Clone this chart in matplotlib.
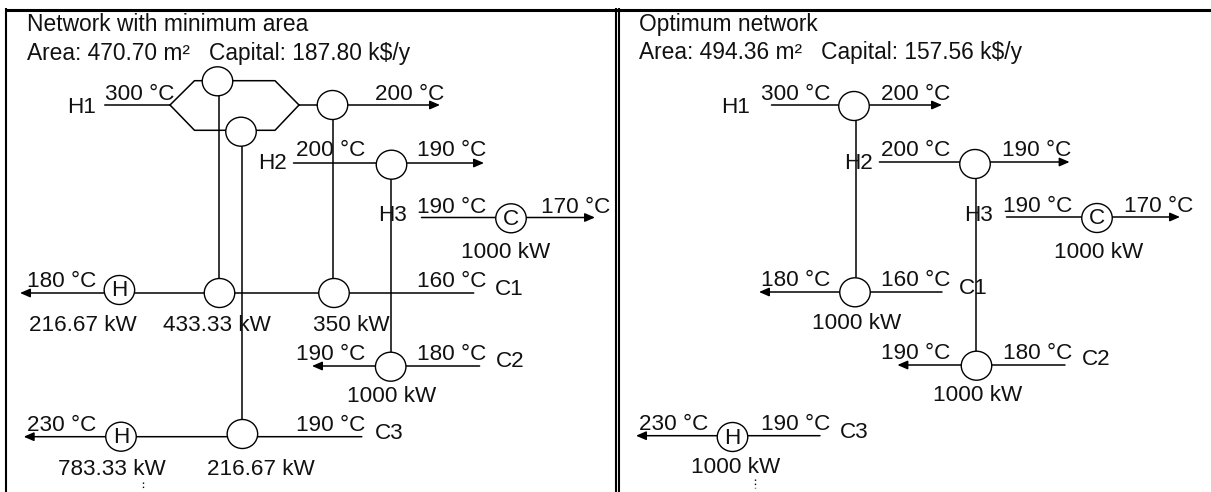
import matplotlib
matplotlib.use('Agg')
import matplotlib.pyplot as plt
from matplotlib.patches import Ellipse


# temperatures and duties
hot_names = ['H1', 'H2', 'H3']
hot_in = [300, 200, 190]
hot_out = [200, 190, 170]
cold_names = ['C1', 'C2', 'C3']
cold_in = [160, 180, 190]
cold_out = [180, 190, 230]

min_titles = ['Network with minimum area', 'Area: 470.70 m\u00b2   Capital: 187.80 k$/y']
opt_titles = ['Optimum network', 'Area: 494.36 m\u00b2   Capital: 157.56 k$/y']
min_duties = ['1000 kW', '216.67 kW', '433.33 kW', '350 kW', '1000 kW', '783.33 kW', '216.67 kW']
opt_duties = ['1000 kW', '1000 kW', '1000 kW', '1000 kW']

FS = 16.2
W, H = 1211, 492


def temp(t):
    return '%d \u00b0C' % t


def label(ax, x, y, s, ha='center', fs=FS):
    ax.text(x, y, s, fontsize=fs, ha=ha, va='baseline', color='#111111', zorder=5)


def stream(ax, x0, x1, y, arrow=True):
    if arrow:
        ax.annotate('', xy=(x1, y), xytext=(x0, y),
                    arrowprops=dict(arrowstyle='-|>,head_length=0.6,head_width=0.26', color='black',
                                    lw=1.1, shrinkA=0, shrinkB=0), zorder=2)
    else:
        ax.plot([x0, x1], [y, y], color='black', lw=1.1, zorder=2)


def vline(ax, x, y0, y1):
    ax.plot([x, x], [y0, y1], color='black', lw=1.1, zorder=1)


def exchanger(ax, x, y, s=None):
    ax.add_patch(Ellipse((x, y), 30.5, 29, fc='white', ec='black', lw=1.0, zorder=3))
    if s:
        ax.text(x, y + 1, s, fontsize=FS, ha='center', va='center', color='#111111', zorder=5)


def min_area(ax):
    # hot side, H1 is split in two branches
    stream(ax, 105, 170, 105, arrow=False)
    ax.plot([170, 194.5, 275, 299], [105, 80.7, 80.7, 105], color='black', lw=1.1, zorder=2)
    ax.plot([170, 194.5, 275, 299], [105, 130.3, 130.3, 105], color='black', lw=1.1, zorder=2)
    stream(ax, 299, 440, 105)
    stream(ax, 293.5, 484, 163)
    stream(ax, 421.5, 595, 217.5)

    # cold side
    stream(ax, 473.7, 20, 293)
    stream(ax, 479.6, 312, 366)
    stream(ax, 361.8, 23.7, 436.7)

    vline(ax, 218.7, 96, 278)
    vline(ax, 242, 146, 420)
    vline(ax, 333.3, 119, 278)
    vline(ax, 391, 179, 352)

    exchanger(ax, 217.5, 81.3)
    exchanger(ax, 241, 131.7)
    exchanger(ax, 332.5, 105)
    exchanger(ax, 391.5, 164.7)
    exchanger(ax, 511, 218.3, 'C')
    exchanger(ax, 119.4, 290, 'H')
    exchanger(ax, 219.5, 293)
    exchanger(ax, 334, 293)
    exchanger(ax, 390.7, 366.7)
    exchanger(ax, 121, 436.7, 'H')
    exchanger(ax, 242.4, 434)

    label(ax, 27, 31, min_titles[0], ha='left', fs=16.4)
    label(ax, 27, 60, min_titles[1], ha='left', fs=16.4)

    label(ax, 81.5, 113, hot_names[0])
    label(ax, 140, 99.5, temp(hot_in[0]))
    label(ax, 409.5, 99.5, temp(hot_out[0]))
    label(ax, 272, 169, hot_names[1])
    label(ax, 330.5, 156, temp(hot_in[1]))
    label(ax, 452, 156, temp(hot_out[1]))
    label(ax, 393, 220.7, hot_names[2])
    label(ax, 452, 212.7, temp(hot_in[2]))
    label(ax, 576, 212.7, temp(hot_out[2]))
    label(ax, 506, 258, min_duties[0])

    label(ax, 61.7, 286.7, temp(cold_out[0]))
    label(ax, 452, 286.7, temp(cold_in[0]))
    label(ax, 509.5, 295, cold_names[0])
    label(ax, 82.5, 330.7, min_duties[1])
    label(ax, 217, 330.7, min_duties[2])
    label(ax, 351.5, 330.7, min_duties[3])
    label(ax, 330.5, 360, temp(cold_out[1]))
    label(ax, 452, 360, temp(cold_in[1]))
    label(ax, 510, 366.7, cold_names[1])
    label(ax, 391.5, 401.7, min_duties[4])
    label(ax, 61.5, 431, temp(cold_out[2]))
    label(ax, 330.5, 431, temp(cold_in[2]))
    label(ax, 389, 438.7, cold_names[2])
    label(ax, 112, 475, min_duties[5])
    label(ax, 260.4, 475, min_duties[6])

    ax.plot([142.7, 142.7], [482, 489], color='black', lw=1, ls=(0, (1, 2)))


def optimum(ax):
    stream(ax, 771.5, 942, 105)
    stream(ax, 879.4, 1069.6, 162)
    stream(ax, 1006.5, 1180, 217)

    stream(ax, 942, 759, 292)
    stream(ax, 1065, 897.4, 365)
    stream(ax, 820, 636, 435.7)

    vline(ax, 855.6, 120, 277)
    vline(ax, 976, 179, 352)

    exchanger(ax, 854, 106)
    exchanger(ax, 975, 164)
    exchanger(ax, 1097, 218, 'C')
    exchanger(ax, 855, 292.3)
    exchanger(ax, 976.5, 365.7)
    exchanger(ax, 732.5, 437, 'H')

    label(ax, 639, 30.7, opt_titles[0], ha='left', fs=16.4)
    label(ax, 639, 59.3, opt_titles[1], ha='left', fs=16.4)

    label(ax, 736, 113, hot_names[0])
    label(ax, 796, 99.5, temp(hot_in[0]))
    label(ax, 915.5, 99.5, temp(hot_out[0]))
    label(ax, 858, 169, hot_names[1])
    label(ax, 915.5, 156, temp(hot_in[1]))
    label(ax, 1037, 156, temp(hot_out[1]))
    label(ax, 979, 220.7, hot_names[2])
    label(ax, 1038, 212, temp(hot_in[2]))
    label(ax, 1158.5, 212, temp(hot_out[2]))
    label(ax, 1099, 258, opt_duties[0])

    label(ax, 795.5, 286, temp(cold_out[0]))
    label(ax, 916, 286, temp(cold_in[0]))
    label(ax, 973.5, 294, cold_names[0])
    label(ax, 857, 329.3, opt_duties[1])
    label(ax, 916, 359.3, temp(cold_out[1]))
    label(ax, 1038, 359.3, temp(cold_in[1]))
    label(ax, 1096, 365, cold_names[1])
    label(ax, 978, 400.7, opt_duties[2])
    label(ax, 674, 430, temp(cold_out[2]))
    label(ax, 795.5, 430, temp(cold_in[2]))
    label(ax, 854, 437.7, cold_names[2])
    label(ax, 735.5, 473, opt_duties[3])

    ax.plot([755, 755], [479, 488], color='black', lw=1, ls=(0, (1, 2)))


plt.rcParams['font.family'] = ['Liberation Sans', 'DejaVu Sans']

fig = plt.figure(figsize=(W / 100, H / 100), dpi=100)
ax = fig.add_axes([0, 0, 1, 1])
ax.set_xlim(0, W)
ax.set_ylim(H, 0)
ax.axis('off')

# panel frames
ax.plot([5, W], [9.5, 9.5], color='black', lw=2.2, solid_capstyle='butt')
ax.plot([6.3, 6.3], [8, H], color='black', lw=1.5, solid_capstyle='butt')
ax.plot([616, 616], [8, H], color='black', lw=1.5, solid_capstyle='butt')
ax.plot([619, 619], [8, H], color='black', lw=1.5, solid_capstyle='butt')

min_area(ax)
optimum(ax)

fig.savefig('out.png', dpi=100)
